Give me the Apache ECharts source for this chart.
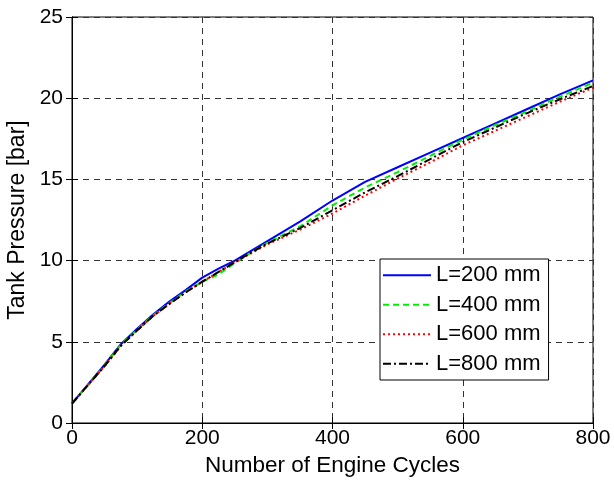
<!DOCTYPE html>
<html>
<head>
<meta charset="utf-8">
<script src="https://cdn.jsdelivr.net/npm/echarts@6/dist/echarts.min.js"></script>
<style>html,body{margin:0;padding:0;background:#fff;}#c{width:614px;height:481px;}</style>
</head>
<body>
<div id="c"></div>
<script>
const cycles = [0,25,50,75,100,125,150,175,200,225,250,275,300,350,400,450,500,550,600,650,700,750,800];
const L200 = [1.2,2.4,3.6,4.85,5.8,6.7,7.5,8.2,8.95,9.5,10.0,10.6,11.2,12.4,13.7,14.85,15.75,16.65,17.55,18.45,19.35,20.25,21.1];
const L400 = [1.2,2.35,3.55,4.8,5.75,6.65,7.4,8.1,8.7,9.15,9.85,10.5,11.1,12.1,13.4,14.5,15.45,16.45,17.45,18.35,19.2,20.1,20.95];
const L600 = [1.2,2.35,3.5,4.75,5.7,6.6,7.35,8.05,8.7,9.3,9.9,10.45,11.0,11.9,12.9,14.0,15.05,16.05,17.1,18.0,18.9,19.8,20.65];
const L800 = [1.2,2.35,3.5,4.75,5.7,6.6,7.35,8.05,8.7,9.3,9.9,10.5,11.05,12.0,13.1,14.2,15.2,16.25,17.3,18.2,19.1,19.95,20.75];
const names = ['L=200 mm','L=400 mm','L=600 mm','L=800 mm'];
const xTicks = [0,200,400,600,800];
const yTicks = [0,5,10,15,20,25];

const FONT = 'Liberation Sans, Arial, sans-serif';
const pair = arr => cycles.map((x,i)=>[x,arr[i]]);
const styles = [
  {color:'#0000ff', type:'solid'},
  {color:'#00ee00', type:[6,4]},
  {color:'#ff0000', type:[2,3]},
  {color:'#000000', type:[8,3,2,3]}
];
const vals = [L200,L400,L600,L800];
const series = vals.map((v,i)=>({
  name:names[i], type:'line', data:pair(v), showSymbol:false, symbol:'none',
  lineStyle:{color:styles[i].color, width:2, type:styles[i].type},
  itemStyle:{color:styles[i].color}, animation:false, z:2+i
}));
const chart = echarts.init(document.getElementById('c'));
const gridLine = {show:true, lineStyle:{color:'#333', type:[6,5], width:1}};
chart.setOption({
  backgroundColor:'#fff',
  animation:false,
  grid:{left:72, right:21, top:17, bottom:58, containLabel:false, outerBoundsMode:'none', show:true, borderColor:'#000', borderWidth:1, backgroundColor:'transparent'},
  xAxis:[{
    type:'value', min:xTicks[0], max:xTicks[xTicks.length-1], interval:200,
    name:'Number of Engine Cycles', nameLocation:'middle', nameGap:30,
    nameTextStyle:{fontFamily:FONT, fontSize:22.5, color:'#000'},
    axisLine:{show:true, lineStyle:{color:'#000', width:1}},
    axisTick:{show:true, inside:true, length:6, lineStyle:{color:'#000'}},
    axisLabel:{fontFamily:FONT, fontSize:21, color:'#000', margin:5},
    splitLine:gridLine
  },{
    type:'value', position:'top', min:0, max:800, interval:200,
    axisLine:{show:true, lineStyle:{color:'#000'}},
    axisTick:{show:true, inside:true, length:6, lineStyle:{color:'#000'}},
    axisLabel:{show:false}, splitLine:{show:false}
  }],
  yAxis:[{
    type:'value', min:yTicks[0], max:yTicks[yTicks.length-1], interval:5,
    name:'Tank Pressure [bar]', nameLocation:'middle', nameGap:40,
    nameTextStyle:{fontFamily:FONT, fontSize:23, color:'#000'},
    axisLine:{show:true, lineStyle:{color:'#000', width:1}},
    axisTick:{show:true, inside:true, length:6, lineStyle:{color:'#000'}},
    axisLabel:{fontFamily:FONT, fontSize:21, color:'#000', margin:9},
    splitLine:gridLine
  },{
    type:'value', position:'right', min:0, max:25, interval:5,
    axisLine:{show:true, lineStyle:{color:'#000'}},
    axisTick:{show:true, inside:true, length:6, lineStyle:{color:'#000'}},
    axisLabel:{show:false}, splitLine:{show:false}
  }],
  legend:{
    data:names, orient:'vertical', left:380, top:259,
    backgroundColor:'#fff', borderColor:'#000', borderWidth:1, borderRadius:0,
    padding:[5,8,5,2], itemWidth:48, itemHeight:14, itemGap:7,
    itemStyle:{opacity:0},
    textStyle:{fontFamily:FONT, fontSize:22, color:'#000', lineHeight:22.5},
    selectedMode:false
  },
  series:series
});
</script>
</body>
</html>
